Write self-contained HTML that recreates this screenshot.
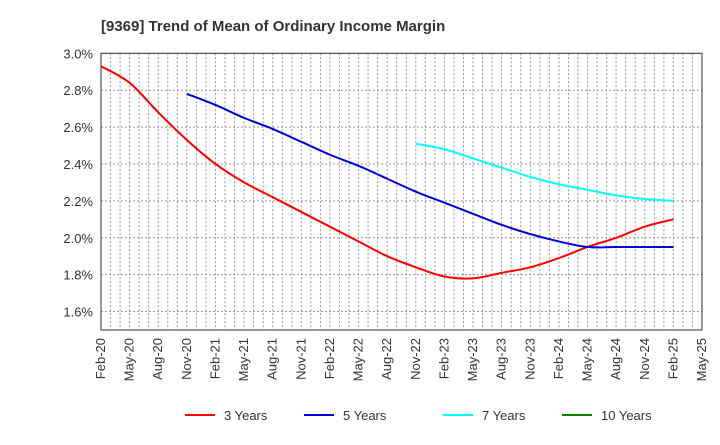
<!DOCTYPE html>
<html><head><meta charset="utf-8"><style>
body{margin:0;background:#fff;font-family:"Liberation Sans",sans-serif}
svg text{font-family:"Liberation Sans",sans-serif}
</style></head><body>
<svg id="chart" width="720" height="440" xmlns="http://www.w3.org/2000/svg">
<text x="101" y="31" font-size="15" font-weight="bold" fill="#333">[9369]  Trend of Mean of Ordinary Income Margin</text>
<g id="grid"></g><g id="axes"></g><g id="series"></g><g id="legend"></g>
</svg>
<script>
const xLabels=["Feb-20","May-20","Aug-20","Nov-20","Feb-21","May-21","Aug-21","Nov-21","Feb-22","May-22","Aug-22","Nov-22","Feb-23","May-23","Aug-23","Nov-23","Feb-24","May-24","Aug-24","Nov-24","Feb-25","May-25"];
const yTicks=[1.6,1.8,2.0,2.2,2.4,2.6,2.8,3.0];
const s3Start=0;
const s3=[2.93,2.84,2.68,2.53,2.40,2.30,2.22,2.14,2.06,1.98,1.90,1.84,1.79,1.78,1.81,1.84,1.89,1.95,2.00,2.06,2.10];
const s5Start=3;
const s5=[2.78,2.72,2.65,2.59,2.52,2.45,2.39,2.32,2.25,2.19,2.13,2.07,2.02,1.98,1.95,1.95,1.95,1.95];
const s7Start=11;
const s7=[2.51,2.48,2.43,2.38,2.33,2.29,2.26,2.23,2.21,2.20];
const s10Start=20;
const s10=[];
const L=101,R=702,T=53.3,B=330,yMin=1.5,yMax=3.0;
const X=i=>L+i*(R-L)/21;
const Y=v=>B-(v-yMin)/(yMax-yMin)*(B-T);
const NS="http://www.w3.org/2000/svg";
function mk(p,tag,a){const e=document.createElementNS(NS,tag);for(const k in a)e.setAttribute(k,a[k]);document.getElementById(p).appendChild(e);return e;}
// grid
for(let m=1;m<63;m++){const x=L+m*(R-L)/63;
const g=mk("grid","line",{x1:x,x2:x,y1:T,y2:B,stroke:"#999","stroke-dasharray":"2,2","stroke-width":1});

}
yTicks.forEach(v=>{const y=Y(v);
const g=mk("grid","line",{x1:L,x2:R,y1:y,y2:y,stroke:"#999","stroke-dasharray":"2,2","stroke-width":1});


const t=mk("axes","text",{x:L-8,y:y+5,"text-anchor":"end","font-size":13,fill:"#333"});
t.textContent=v.toFixed(1)+"%";

});
const fr=mk("axes","rect",{x:L,y:T,width:R-L,height:B-T,fill:"none",stroke:"#333","stroke-width":1});


xLabels.forEach((s,i)=>{const x=X(i);
const t=mk("axes","text",{x:0,y:0,"text-anchor":"end","font-size":13,fill:"#333",transform:`translate(${x+4},${B+8}) rotate(-90)`});
t.textContent=s;

});
function path(arr,start){const p=arr.map((v,i)=>[X(start+i),Y(v)]);if(p.length<2)return"";
let d=`M${p[0][0]},${p[0][1]}`;
for(let i=0;i<p.length-1;i++){const p0=p[Math.max(0,i-1)],p1=p[i],p2=p[i+1],p3=p[Math.min(p.length-1,i+2)];
d+=` C${p1[0]+(p2[0]-p0[0])/6},${p1[1]+(p2[1]-p0[1])/6} ${p2[0]-(p3[0]-p1[0])/6},${p2[1]-(p3[1]-p1[1])/6} ${p2[0]},${p2[1]}`;}
return d;}
[[s3,s3Start,"#ff0000","series-3-years"],[s5,s5Start,"#0000dd","series-5-years"],[s7,s7Start,"#00ffff","series-7-years"],[s10,s10Start,"#008000","series-10-years"]].forEach(([a,s,c,n])=>{
if(a.length<2)return;
const e=mk("series","path",{d:path(a,s),fill:"none",stroke:c,"stroke-width":2});

});
[["3 Years","#ff0000",185],["5 Years","#0000dd",304],["7 Years","#00ffff",443],["10 Years","#008000",562]].forEach(([t,c,x])=>{
const l=mk("legend","line",{x1:x,x2:x+30,y1:415,y2:415,stroke:c,"stroke-width":2});


const tx=mk("legend","text",{x:x+39,y:420,"font-size":13,fill:"#333"});
tx.textContent=t;

});
</script>
</body></html>
